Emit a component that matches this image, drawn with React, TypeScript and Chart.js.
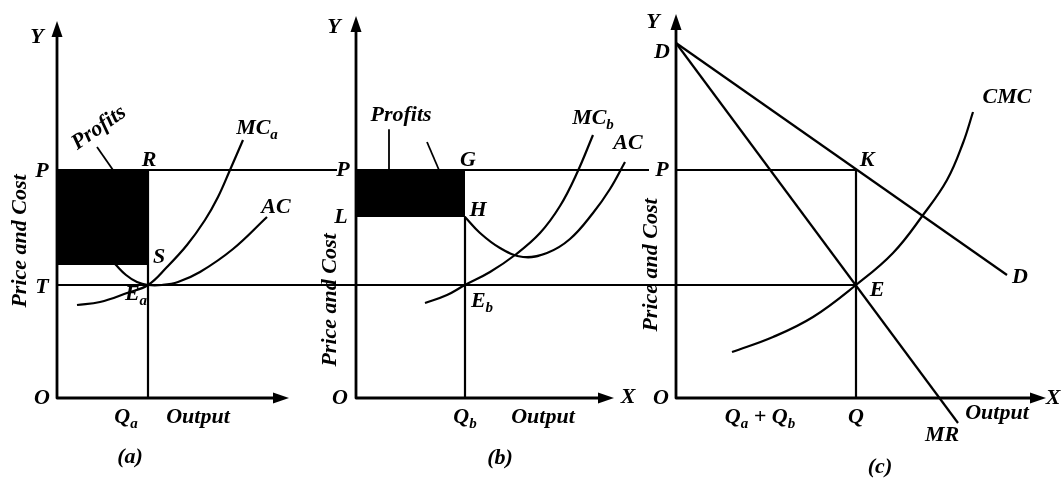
import React, { useEffect, useRef } from "react";
import { Chart, registerables } from "chart.js";
Chart.register(...registerables);

type Pt = { x: number; y: number };
const toPts = (a: number[][]): Pt[] => a.map(([x, y]) => ({ x, y }));

// ---- Data (diagram coordinates: x to the right, y downward) ----
// Axes
const axisA = [[57, 30], [57, 398], [280, 398]];
const axisB = [[356, 25], [356, 398], [605, 398]];
const axisC = [[676, 24], [676, 398], [1037, 398]];
const arrowTips = [
  { x: 57, y: 21, dir: "up" }, { x: 289, y: 398, dir: "right" },
  { x: 356, y: 16, dir: "up" }, { x: 614, y: 398, dir: "right" },
  { x: 676, y: 14, dir: "up" }, { x: 1046, y: 398, dir: "right" },
];
// Price level lines
const priceLineA = [[57, 170], [337, 170]];
const priceLineB = [[356, 170], [649, 170]];
const priceLineC = [[676, 170], [856, 170]];
const costLine = [[57, 285], [856, 285]];
// Output verticals
const qLineA = [[148, 170], [148, 398]];
const qLineB = [[465, 217], [465, 398]];
const qLineC = [[856, 170], [856, 398]];
// Profit rectangles (top edge, filled down to bottom value)
const profitA = [[57, 170], [148, 170]];
const profitABottom = 265;
const profitB = [[356, 170], [465, 170]];
const profitBBottom = 217;
// Cost curves firm A
const acA = [[115, 264], [126, 275], [137, 282], [148, 285], [162, 285], [178, 282], [200, 272], [233, 249], [267, 217]];
const mcA = [[77, 305], [100, 302], [127, 293], [148, 285], [167, 267], [187, 245], [205, 220], [218, 197], [230, 170], [243, 140]];
// Cost curves firm B
const acB = [[465, 217], [480, 233], [500, 248], [523, 257], [547, 253], [570, 239], [593, 213], [610, 189], [625, 162]];
const mcB = [[425, 303], [447, 295], [465, 285], [490, 272], [515, 255], [540, 233], [560, 206], [577, 173], [593, 135]];
// Cartel
const demand = [[676, 43], [1007, 275]];
const marginalRevenue = [[676, 43], [958, 423]];
const cmc = [[732, 352], [773, 337], [813, 317], [856, 285], [893, 253], [923, 215], [947, 180], [963, 143], [973, 112]];
// Pointers of the "Profits" labels
const pointerA = [[97, 147], [113, 170]];
const pointerB1 = [[389, 130], [389, 170]];
const pointerB2 = [[427, 142], [439, 170]];

type Part = [string, boolean?];
type Label = { parts: Part[]; x: number; y: number; rot?: number };
const labels: Label[] = [
  // panel a
  { parts: [["Y"]], x: 37, y: 37 },
  { parts: [["P"]], x: 42, y: 171 },
  { parts: [["T"]], x: 42, y: 287 },
  { parts: [["O"]], x: 42, y: 398 },
  { parts: [["R"]], x: 149, y: 160 },
  { parts: [["S"]], x: 159, y: 257 },
  { parts: [["E"], ["a", true]], x: 136, y: 294 },
  { parts: [["MC"], ["a", true]], x: 257, y: 128 },
  { parts: [["AC"]], x: 276, y: 207 },
  { parts: [["Q"], ["a", true]], x: 126, y: 417 },
  { parts: [["Output"]], x: 198, y: 417 },
  { parts: [["(a)"]], x: 130, y: 457 },
  { parts: [["Price and Cost"]], x: 20, y: 241, rot: -90 },
  { parts: [["Profits"]], x: 99, y: 128, rot: -35 },
  // panel b
  { parts: [["Y"]], x: 334, y: 27 },
  { parts: [["P"]], x: 343, y: 170 },
  { parts: [["L"]], x: 341, y: 217 },
  { parts: [["O"]], x: 340, y: 398 },
  { parts: [["X"]], x: 628, y: 397 },
  { parts: [["G"]], x: 468, y: 160 },
  { parts: [["H"]], x: 478, y: 210 },
  { parts: [["E"], ["b", true]], x: 482, y: 301 },
  { parts: [["MC"], ["b", true]], x: 593, y: 118 },
  { parts: [["AC"]], x: 628, y: 143 },
  { parts: [["Q"], ["b", true]], x: 465, y: 417 },
  { parts: [["Output"]], x: 543, y: 417 },
  { parts: [["(b)"]], x: 500, y: 458 },
  { parts: [["Price and Cost"]], x: 330, y: 300, rot: -90 },
  { parts: [["Profits"]], x: 401, y: 115 },
  // panel c
  { parts: [["Y"]], x: 653, y: 22 },
  { parts: [["D"]], x: 662, y: 52 },
  { parts: [["P"]], x: 662, y: 170 },
  { parts: [["O"]], x: 661, y: 398 },
  { parts: [["X"]], x: 1053, y: 398 },
  { parts: [["K"]], x: 867, y: 160 },
  { parts: [["E"]], x: 877, y: 290 },
  { parts: [["D"]], x: 1020, y: 277 },
  { parts: [["CMC"]], x: 1007, y: 97 },
  { parts: [["MR"]], x: 942, y: 435 },
  { parts: [["Output"]], x: 997, y: 413 },
  { parts: [["Q"]], x: 856, y: 417 },
  { parts: [["Q"], ["a", true], [" + Q"], ["b", true]], x: 760, y: 417 },
  { parts: [["(c)"]], x: 880, y: 467 },
  { parts: [["Price and Cost"]], x: 651, y: 265, rot: -90 },
];

const FONT = '"Liberation Serif", "DejaVu Serif", serif';

const overlay = {
  id: "overlay",
  afterDatasetsDraw(chart: any) {
    const { ctx, scales } = chart;
    const sx = scales.x, sy = scales.y;
    ctx.save();
    ctx.fillStyle = "#000";
    for (const a of arrowTips) {
      const px = sx.getPixelForValue(a.x), py = sy.getPixelForValue(a.y);
      ctx.beginPath();
      if (a.dir === "up") {
        ctx.moveTo(px, py); ctx.lineTo(px - 5.5, py + 16); ctx.lineTo(px + 5.5, py + 16);
      } else {
        ctx.moveTo(px, py); ctx.lineTo(px - 16, py - 5.5); ctx.lineTo(px - 16, py + 5.5);
      }
      ctx.closePath();
      ctx.fill();
    }
    ctx.textBaseline = "middle";
    ctx.textAlign = "left";
    const main = `italic bold 22px ${FONT}`;
    const sub = `italic bold 15px ${FONT}`;
    for (const l of labels) {
      const px = sx.getPixelForValue(l.x), py = sy.getPixelForValue(l.y);
      let w = 0;
      for (const [t, s] of l.parts) { ctx.font = s ? sub : main; w += ctx.measureText(t).width; }
      ctx.save();
      ctx.translate(px, py);
      if (l.rot) ctx.rotate((l.rot * Math.PI) / 180);
      let cx = -w / 2;
      for (const [t, s] of l.parts) {
        ctx.font = s ? sub : main;
        ctx.fillText(t, cx, s ? 7 : 0);
        cx += ctx.measureText(t).width;
      }
      ctx.restore();
    }
    ctx.restore();
  },
};

const line = (d: number[][], width = 2.2, curve = false) => ({
  data: toPts(d),
  showLine: true,
  borderColor: "#000",
  borderWidth: width,
  pointRadius: 0,
  fill: false,
  tension: curve ? 0.4 : 0,
  borderCapStyle: "butt",
  borderJoinStyle: "round",
});

const rect = (d: number[][], bottom: number) => ({
  data: toPts(d),
  showLine: true,
  borderColor: "#000",
  borderWidth: 1,
  backgroundColor: "#000",
  pointRadius: 0,
  fill: { value: bottom },
});

export default function App() {
  const ref = useRef<HTMLCanvasElement>(null);
  useEffect(() => {
    if (!ref.current) return;
    const chart = new Chart(ref.current, {
      type: "scatter",
      data: {
        datasets: [
          rect(profitA, profitABottom),
          rect(profitB, profitBBottom),
          line(axisA, 2.8), line(axisB, 2.8), line(axisC, 2.8),
          line(priceLineA), line(priceLineB), line(priceLineC), line(costLine),
          line(qLineA), line(qLineB), line(qLineC),
          line(acA, 2.2, true), line(mcA, 2.2, true),
          line(acB, 2.2, true), line(mcB, 2.2, true),
          line(demand), line(marginalRevenue), line(cmc, 2.2, true),
          line(pointerA, 1.8), line(pointerB1, 1.8), line(pointerB2, 1.8),
        ] as any,
      },
      options: {
        animation: false,
        responsive: false,
        maintainAspectRatio: false,
        layout: { padding: 0 },
        plugins: { legend: { display: false }, tooltip: { enabled: false } },
        events: [],
        scales: {
          x: { type: "linear", min: 0, max: 1061, display: false },
          y: { type: "linear", min: 0, max: 481, reverse: true, display: false },
        },
      },
      plugins: [overlay],
    });
    return () => chart.destroy();
  }, []);
  return (
    <div style={{ position: "absolute", left: 0, top: 0, width: 1061, height: 481, background: "#fff" }}>
      <canvas ref={ref} width={1061} height={481} style={{ display: "block" }} />
    </div>
  );
}
